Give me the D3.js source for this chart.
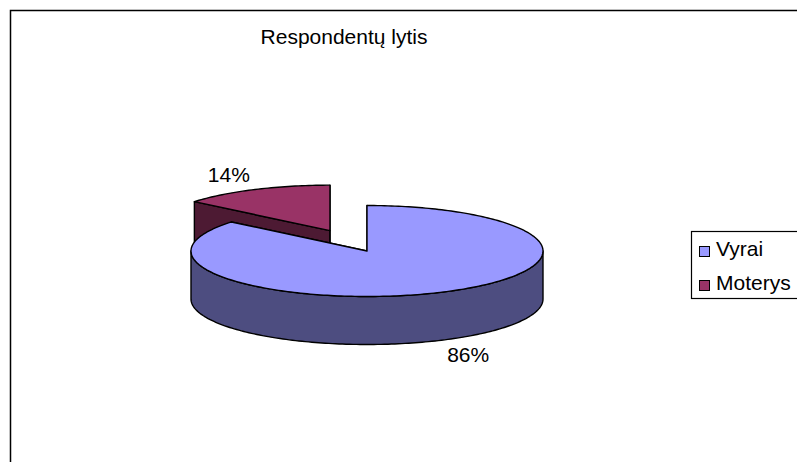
<!DOCTYPE html>
<html>
<head>
<meta charset="utf-8">
<script src="https://cdn.jsdelivr.net/npm/d3@7"></script>
<style>
  html, body { margin: 0; padding: 0; background: #fff; }
  text { font-family: "Liberation Sans", Arial, sans-serif; fill: #000; }
</style>
</head>
<body>
<div id="chart"></div>
<script>
  const title = "Respondentų lytis";
  const categories = ["Vyrai", "Moterys"];
  const values = [86, 14];
  const topColors = ["#9999ff", "#993366"];
  const sideColors = ["#4d4d80", "#4d1a33"];
  const explode = [0, 0.494];

  const width = 797, height = 462;
  const cx = 367, cy = 251, rx = 176, ry = 45.5, depth = 48;

  const svg = d3.select("#chart").append("svg")
    .attr("width", width)
    .attr("height", height);

  // chart area border (runs off the right/bottom edges)
  svg.append("rect")
    .attr("x", 10.5).attr("y", 10.5)
    .attr("width", 820).attr("height", 480)
    .attr("fill", "none")
    .attr("stroke", "#000")
    .attr("stroke-width", 1.5);

  svg.append("text")
    .attr("x", 344).attr("y", 44)
    .attr("text-anchor", "middle")
    .attr("font-size", "21px")
    .text(title);

  const x = d3.scaleLinear().domain([-1, 1]).range([cx - rx, cx + rx]);
  const y = d3.scaleLinear().domain([-1, 1]).range([cy - ry, cy + ry]);

  const pie = d3.pie().sort(null).startAngle(0).endAngle(2 * Math.PI);
  const arcs = pie(values);

  const line = d3.line();

  function offsetOf(d, i) {
    const mid = (d.startAngle + d.endAngle) / 2;
    return { ox: Math.sin(mid) * explode[i], oy: -Math.cos(mid) * explode[i] };
  }

  function pt(a, r, o, dz) {
    return [x(o.ox + r * Math.sin(a)), y(o.oy - r * Math.cos(a)) + (dz || 0)];
  }

  function rim(a0, a1, o, dz) {
    const n = Math.max(2, Math.ceil(Math.abs(a1 - a0) / 0.02));
    const pts = [];
    for (let k = 0; k <= n; k++) {
      pts.push(pt(a0 + (a1 - a0) * k / n, 1, o, dz));
    }
    return pts;
  }

  const g = svg.append("g")
    .attr("stroke", "#000")
    .attr("stroke-width", 1.4)
    .attr("stroke-linejoin", "round");

  // draw back slice first (exploded Moterys), then the front one
  const order = [1, 0];
  order.forEach(i => {
    const d = arcs[i];
    const o = offsetOf(d, i);
    const c = pt(0, 0, o);

    // radial walls
    [d.startAngle, d.endAngle].forEach(a => {
      const r = pt(a, 1, o);
      g.append("path")
        .attr("d", line([c, r, [r[0], r[1] + depth], [c[0], c[1] + depth]]) + "Z")
        .attr("fill", sideColors[i]);
    });

    // outer wall, only the part facing the viewer
    const a0 = Math.max(d.startAngle, Math.PI / 2);
    const a1 = Math.min(d.endAngle, 3 * Math.PI / 2);
    if (a1 > a0) {
      const pts = rim(a0, a1, o, 0).concat(rim(a1, a0, o, depth));
      g.append("path")
        .attr("d", line(pts) + "Z")
        .attr("fill", sideColors[i]);
    }

    // top face
    g.append("path")
      .attr("d", line([c].concat(rim(d.startAngle, d.endAngle, o, 0))) + "Z")
      .attr("fill", topColors[i]);
  });

  // data labels
  arcs.forEach((d, i) => {
    const mid = (d.startAngle + d.endAngle) / 2;
    const o = offsetOf(d, i);
    const front = Math.cos(mid) < 0 ? depth : 0;
    const p = pt(mid, 1.35, o, front);
    svg.append("text")
      .attr("x", p[0]).attr("y", p[1] + 7)
      .attr("text-anchor", "middle")
      .attr("font-size", "21px")
      .text(d3.format(".0f")(d.value) + "%");
  });

  // legend
  const legend = svg.append("g");
  legend.append("rect")
    .attr("x", 691.5).attr("y", 231.5)
    .attr("width", 140).attr("height", 67)
    .attr("fill", "#fff")
    .attr("stroke", "#000")
    .attr("stroke-width", 1.2);

  categories.forEach((name, i) => {
    const yy = 246 + i * 34;
    legend.append("rect")
      .attr("x", 699.5).attr("y", yy + 0.5)
      .attr("width", 10).attr("height", 10)
      .attr("fill", topColors[i])
      .attr("stroke", "#000");
    legend.append("text")
      .attr("x", 716).attr("y", yy + 10)
      .attr("font-size", "21px")
      .text(name);
  });
</script>
</body>
</html>
